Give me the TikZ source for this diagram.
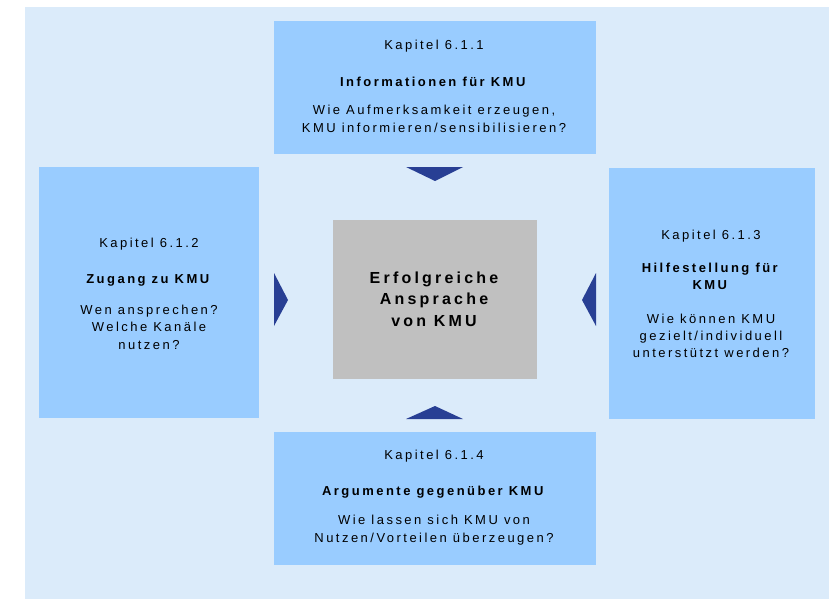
\documentclass[tikz,border=0pt]{standalone}
\usepackage{fontspec}
\setmainfont{Liberation Sans}[LetterSpace=19]
\newfontfamily\ctrfont{Liberation Sans}[LetterSpace=20]
\definecolor{bgblue}{HTML}{DBEBFA}
\definecolor{boxblue}{HTML}{99CCFF}
\definecolor{ctrgray}{HTML}{C0C0C0}
\definecolor{arrowblue}{HTML}{283F94}
\begin{document}
\begin{tikzpicture}[x=1pt,y=-1pt,
  boxstyle/.style={draw=none,fill=boxblue,inner sep=0pt},
  txt/.style={align=center,anchor=base,inner sep=0pt,text=black},
  arr/.style={fill=arrowblue,draw=none}]
\useasboundingbox (0,0) rectangle (829,599);
\fill[bgblue] (25,7) rectangle (829,599);
% boxes
\path[boxstyle] (274,21) rectangle (596,154);
\path[boxstyle] (39,167) rectangle (259,418);
\path[boxstyle] (609,168) rectangle (815,419);
\path[boxstyle] (274,432) rectangle (596,565);
\path[fill=ctrgray] (333,220) rectangle (537,379);
% texts (anchor = baseline of the last line)
\node[txt,font=\fontsize{13}{18.7}\selectfont] (ttop) at (434,132.7)
  {Kapitel 6.1.1\\[18.7pt]\textbf{Informationen für KMU}\\[8.6pt]Wie Aufmerksamkeit erzeugen,\\KMU informieren/sensibilisieren?};
\node[txt,font=\fontsize{13}{17.5}\selectfont] (tleft) at (149,349.3)
  {Kapitel 6.1.2\\[18.1pt]\textbf{Zugang zu KMU}\\[13.5pt]Wen ansprechen?\\Welche Kanäle\\nutzen?};
\node[txt,font=\fontsize{13}{17}\selectfont] (tright) at (711,357.3)
  {Kapitel 6.1.3\\[15.7pt]\textbf{Hilfestellung für}\\\textbf{KMU}\\[17pt]Wie können KMU\\gezielt/individuell\\unterstützt werden?};
\node[txt,font=\fontsize{13}{18.7}\selectfont] (tbot) at (434,542.7)
  {Kapitel 6.1.4\\[17.3pt]\textbf{Argumente gegenüber KMU}\\[10pt]Wie lassen sich KMU von\\Nutzen/Vorteilen überzeugen?};
\node[txt,font=\ctrfont\bfseries\fontsize{16}{21.3}\selectfont] (tctr) at (434,326)
  {Erfolgreiche\\Ansprache\\von KMU};
% arrows
\fill[arr] (406,167) -- (463,167) -- (435,181) -- cycle;
\fill[arr] (406,419) -- (463,419) -- (435,406) -- cycle;
\fill[arr] (274,273) -- (274,326) -- (288,300) -- cycle;
\fill[arr] (596,273) -- (596,326) -- (582,300) -- cycle;
\end{tikzpicture}
\end{document}
